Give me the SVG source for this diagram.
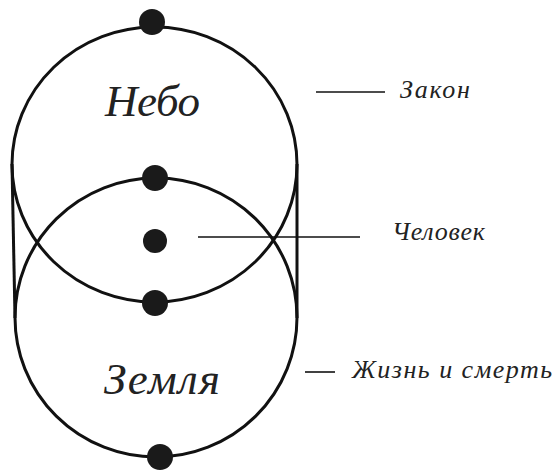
<svg xmlns="http://www.w3.org/2000/svg" width="556" height="471" viewBox="0 0 556 471">
<style>
.c{fill:none;stroke:#111;stroke-width:3}
.l{stroke:#111;stroke-width:1.6}
.d{fill:#1a1a1a}
.big{font-family:"Liberation Serif","DejaVu Serif",serif;font-style:italic;font-size:45px;fill:#222}
.sm{font-family:"Liberation Serif","DejaVu Serif",serif;font-style:italic;font-size:26px;fill:#222}
</style>
<rect width="556" height="471" fill="#fff"/>
<g id="sky"><ellipse class="c" cx="154.5" cy="164.5" rx="142.5" ry="137.5"/><text class="big" x="105" y="116" textLength="95">Небо</text></g>
<g id="earth"><ellipse class="c" cx="156" cy="317.5" rx="141" ry="139.5"/><text class="big" x="104" y="394" textLength="116">Земля</text></g>
<g id="sides"><line class="c" x1="12" y1="164" x2="15" y2="318"/><line class="c" x1="297" y1="164" x2="297" y2="318"/></g>
<g id="dots"><circle class="d" cx="152" cy="22" r="13"/><circle class="d" cx="155" cy="178" r="13"/><circle class="d" cx="155" cy="241" r="12"/><circle class="d" cx="155" cy="303" r="13"/><circle class="d" cx="160" cy="457" r="13"/></g>
<g id="connectors"><line class="l" x1="316" y1="92" x2="385" y2="92"/><line class="l" x1="198" y1="237" x2="360" y2="237"/><line class="l" x1="305" y1="372" x2="335" y2="372"/></g>
<g id="labels"><text class="sm" x="400" y="98" textLength="70">Закон</text><text class="sm" x="392" y="240" textLength="93">Человек</text><text class="sm" x="352" y="378" textLength="200">Жизнь и смерть</text></g>
</svg>
